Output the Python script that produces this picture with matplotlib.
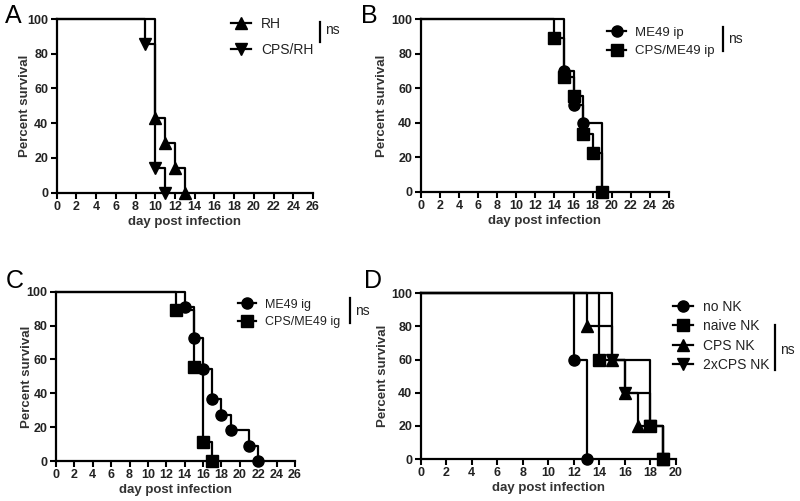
import matplotlib
matplotlib.use("Agg")
import matplotlib.pyplot as plt
from matplotlib.lines import Line2D

plt.rcParams['font.family'] = ['Liberation Sans', 'DejaVu Sans']

# ---- data (day of death -> percent survival after that day) ----
# Panel A
a_rh_days = [10, 11, 12, 13]
a_rh_surv = [42.9, 28.6, 14.3, 0]
a_cps_days = [9, 10, 11]
a_cps_surv = [85.7, 14.3, 0]
# Panel B
b_me49_days = [15, 16, 17, 19]
b_me49_surv = [70, 50, 40, 0]
b_cps_days = [14, 15, 16, 17, 18, 19]
b_cps_surv = [88.9, 66.7, 55.6, 33.3, 22.2, 0]
# Panel C
c_me49_days = [14, 15, 16, 17, 18, 19, 21, 22]
c_me49_surv = [90.9, 72.7, 54.5, 36.4, 27.3, 18.2, 9.1, 0]
c_cps_days = [13, 15, 16, 17]
c_cps_surv = [88.9, 55.6, 11.1, 0]
# Panel D
d_no_days = [12, 13]
d_no_surv = [60, 0]
d_naive_days = [14, 18, 19]
d_naive_surv = [60, 20, 0]
d_cps_days = [13, 15, 16, 17, 19]
d_cps_surv = [80, 60, 40, 20, 0]
d_2x_days = [15, 16, 18, 19]
d_2x_surv = [60, 40, 20, 0]

yticks = [0, 20, 40, 60, 80, 100]
xticks_26 = list(range(0, 27, 2))
xticks_20 = list(range(0, 21, 2))

TXT = '#222222'
W, H = 800, 501

fig = plt.figure(figsize=(8.0, 5.01), dpi=100)


def fx(px):
    return px / W


def fy(py):
    return 1 - py / H


def add_ax(l, r, t, b):
    return fig.add_axes([fx(l), fy(b), fx(r) - fx(l), fy(t) - fy(b)])


def style(ax, xmax, xticks, ylab_off_px):
    ax.set_xlim(0, xmax)
    ax.set_ylim(0, 100)
    ax.set_xticks(xticks)
    ax.set_yticks(yticks)
    for s in ['top', 'right']:
        ax.spines[s].set_visible(False)
    for s in ['left', 'bottom']:
        ax.spines[s].set_linewidth(1.6)
    ax.tick_params(direction='out', length=4.5, width=1.5, pad=1.5,
                   labelsize=9, colors='black', labelcolor=TXT)
    for lab in ax.get_xticklabels() + ax.get_yticklabels():
        lab.set_fontweight('bold')
    ax.set_xlabel('day post infection', fontsize=9.5, fontweight='bold',
                  color='#333333', va='center')
    ax.set_ylabel('Percent survival', fontsize=9.5, fontweight='bold',
                  color='#333333', va='center')
    bb = ax.get_position()
    wpx = bb.width * W
    hpx = bb.height * H
    ax.xaxis.set_label_coords(0.5, -29.0 / hpx)
    ax.yaxis.set_label_coords(ylab_off_px / wpx, 0.5)
    ax.patch.set_alpha(0)


def km(ax, days, surv, marker):
    xs = [0] + list(days)
    ys = [100] + list(surv)
    ax.step(xs, ys, where='post', color='black', lw=1.6, clip_on=False,
            zorder=3)
    ax.plot(days, surv, linestyle='none', marker=marker, color='black',
            markersize=8, clip_on=False, zorder=4)


def legend(ax, labels, markers, x_px, yc_px, fs, spacing):
    handles = [Line2D([], [], color='black', lw=1.6, marker=m, markersize=8)
               for m in markers]
    fig.legend(handles, labels, loc='center left',
               bbox_to_anchor=(fx(x_px), fy(yc_px)),
               bbox_transform=fig.transFigure, frameon=False,
               borderpad=0, borderaxespad=0, handlelength=1.45,
               handletextpad=0.7, labelspacing=spacing, fontsize=fs,
               labelcolor=TXT)


def ns(x_px, y0_px, y1_px, ty_px, fs=10):
    fig.add_artist(Line2D([fx(x_px), fx(x_px)], [fy(y0_px), fy(y1_px)],
                          color='black', lw=1.6, transform=fig.transFigure))
    fig.text(fx(x_px + 5), fy(ty_px), 'ns', fontsize=fs, color=TXT,
             ha='left', va='center')


# Panel A
axA = add_ax(56.7, 313, 19, 192.7)
style(axA, 26, xticks_26, -31.5)
km(axA, a_rh_days, a_rh_surv, '^')
km(axA, a_cps_days, a_cps_surv, 'v')
legend(axA, ['RH', 'CPS/RH'], ['^', 'v'], 231, 37, 10, 0.85)
ns(320, 22, 42, 30)

# Panel B
axB = add_ax(420.7, 669, 19, 191.7)
style(axB, 26, xticks_26, -39)
km(axB, b_me49_days, b_me49_surv, 'o')
km(axB, b_cps_days, b_cps_surv, 's')
legend(axB, ['ME49 ip', 'CPS/ME49 ip'], ['o', 's'], 607, 42, 9.5, 0.45)
ns(723, 27, 51, 39)

# Panel C
axC = add_ax(56, 295, 291.7, 461)
style(axC, 26, xticks_26, -29)
km(axC, c_me49_days, c_me49_surv, 'o')
km(axC, c_cps_days, c_cps_surv, 's')
legend(axC, ['ME49 ig', 'CPS/ME49 ig'], ['o', 's'], 238, 313.5, 9, 0.45)
ns(350, 298, 323, 311)

# Panel D
axD = add_ax(420.7, 676, 293.3, 459)
style(axD, 20, xticks_20, -37.5)
km(axD, d_no_days, d_no_surv, 'o')
km(axD, d_naive_days, d_naive_surv, 's')
km(axD, d_cps_days, d_cps_surv, '^')
km(axD, d_2x_days, d_2x_surv, 'v')
legend(axD, ['no NK', 'naive NK', 'CPS NK', '2xCPS NK'],
       ['o', 's', '^', 'v'], 673, 336, 10, 0.4)
ns(775, 325, 370, 350)

# panel letters
for letter, x, y in [('A', 5, 16), ('B', 361, 16), ('C', 6, 281), ('D', 364, 281)]:
    fig.text(fx(x), fy(y), letter, fontsize=18, color='black',
             ha='left', va='center')

fig.savefig('out.png', dpi=100)
